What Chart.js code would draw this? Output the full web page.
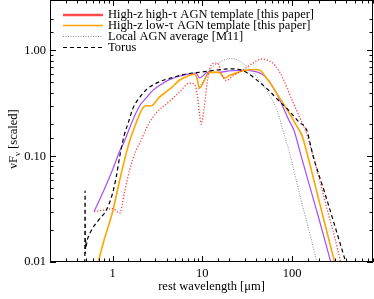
<!DOCTYPE html>
<html><head><meta charset="utf-8">
<script src="https://cdn.jsdelivr.net/npm/chart.js@4.4.1/dist/chart.umd.min.js"></script>
<style>html,body{margin:0;padding:0;background:#fff;}#c{display:block;}</style>
</head><body>
<canvas id="c" width="374" height="299"></canvas>
<script>
// ---- tick labels ----
const xTickLabels = [1, 10, 100];
const yTickLabels = [0.01, 0.1, 1];
const xTitle = 'rest wavelength [\u03bcm]';
const legendLabels = [
  'High-z high-\u03c4 AGN template [this paper]',
  'High-z low-\u03c4 AGN template [this paper]',
  'Local AGN average [M11]',
  'Torus'
];

// ---- series: rest wavelength (um) and scaled nuFnu ----
const highTauWave = [0.62,0.8,1.0,1.2,1.35,1.55,1.8,2.1,2.5,3.1,4.3,5.5,7.2,8.1,8.7,9.3,9.7,10.5,11.4,12.9,14.7,16.7,18.5,21.6,28,36,46,55,65,78,100,120,143,170,200,250,300,350];
const highTauFlux = [0.03,0.031,0.032,0.029,0.045,0.075,0.11,0.145,0.2,0.26,0.33,0.4,0.49,0.48,0.4,0.25,0.2,0.29,0.52,0.75,0.76,0.58,0.52,0.57,0.65,0.75,0.83,0.8,0.72,0.56,0.34,0.24,0.17,0.105,0.063,0.03,0.017,0.0098];

const lowTauWave = [0.686,0.8,1.0,1.2,1.43,1.55,1.8,2.0,2.2,2.4,2.7,3.3,4.0,4.6,5.5,7.2,8.1,8.7,9.3,10.5,11.4,12.5,15.4,17.6,20,25,30,40,45,51,60,72,92,110,130,150,200,250,300];
const lowTauFlux = [0.0098,0.016,0.03,0.06,0.11,0.14,0.2,0.25,0.29,0.3,0.3,0.36,0.41,0.45,0.52,0.58,0.6,0.55,0.44,0.52,0.6,0.62,0.62,0.55,0.58,0.62,0.65,0.66,0.64,0.56,0.46,0.36,0.26,0.2,0.155,0.1,0.038,0.018,0.0098];

const extraWave = [0.62,0.8,1.0,1.2,1.36,1.6,2.0,2.4,2.8,3.5,4.3,5.5,7.2,8.5,9.3,10,11.4,15,20,28,36,46,55,72,92,105,125,150,200,272];
const extraFlux = [0.03,0.048,0.075,0.112,0.14,0.2,0.3,0.36,0.42,0.48,0.53,0.57,0.6,0.61,0.55,0.57,0.62,0.62,0.64,0.65,0.64,0.6,0.52,0.35,0.22,0.176,0.104,0.06,0.0255,0.0098];

const localWave = [9.0,10,11,12,13.5,15.4,18,21.6,25,28,33,40,55,65,72,79,92,110,130,160,190];
const localFlux = [0.43,0.5,0.57,0.65,0.72,0.77,0.82,0.84,0.81,0.76,0.68,0.57,0.39,0.3,0.235,0.176,0.115,0.062,0.035,0.0177,0.0098];

const torusWave = [0.489,0.492,0.496,0.50,0.505,0.52,0.58,0.7,0.85,1.0,1.1,1.2,1.35,1.5,1.67,2.0,2.4,2.8,3.6,4.5,6.6,9,12,16,21,26,32,40,55,70,85,100,120,146,172,230,300,400];
const torusFlux = [0.0098,0.047,0.012,0.016,0.014,0.016,0.02,0.025,0.031,0.045,0.065,0.1,0.16,0.21,0.28,0.36,0.43,0.47,0.52,0.55,0.6,0.62,0.64,0.66,0.67,0.66,0.61,0.53,0.42,0.34,0.29,0.25,0.21,0.176,0.1,0.046,0.022,0.0098];

const pts = (w, f) => w.map((v, i) => ({x: v, y: f[i]}));
const FONT = '"Liberation Serif", "Times New Roman", serif';
const isMajor = v => Math.abs(Math.log10(v) - Math.round(Math.log10(v))) < 1e-6;
const near = (v, list) => list.some(t => Math.abs(v / t - 1) < 1e-6);

const decor = {
  id: 'decor',
  afterDraw(chart) {
    const {ctx, chartArea: a, scales: {x, y}} = chart;
    ctx.save();
    ctx.strokeStyle = '#000';
    ctx.lineWidth = 1;
    ctx.strokeRect(a.left + 0.5, a.top + 0.5, a.right - a.left - 1, a.bottom - a.top - 1);
    ctx.beginPath();
    x.ticks.forEach(t => {
      const v = t.value;
      if (v < x.min || v > x.max) return;
      const px = Math.round(x.getPixelForValue(v)) + 0.5;
      const L = isMajor(v) ? 6 : 3.5;
      ctx.moveTo(px, a.bottom); ctx.lineTo(px, a.bottom - L);
      ctx.moveTo(px, a.top); ctx.lineTo(px, a.top + L);
    });
    y.ticks.forEach(t => {
      const v = t.value;
      if (v < y.min || v > y.max) return;
      const py = Math.round(y.getPixelForValue(v)) + 0.5;
      const L = isMajor(v) ? 6 : 3.5;
      ctx.moveTo(a.left, py); ctx.lineTo(a.left + L, py);
      ctx.moveTo(a.right, py); ctx.lineTo(a.right - L, py);
    });
    ctx.stroke();

    // legend
    const styles = [
      {c: '#ff4d4d', w: 2.5, d: []},
      {c: '#ffa500', w: 1.6, d: []},
      {c: '#8c8c8c', w: 1, d: [1, 1.5]},
      {c: '#000000', w: 1.2, d: [4, 3]}
    ];
    const rowsY = [15, 25.5, 36.5, 47.5];
    ctx.font = '12.5px ' + FONT;
    ctx.fillStyle = '#000';
    ctx.textBaseline = 'middle';
    ctx.textAlign = 'left';
    legendLabels.forEach((lab, i) => {
      const s = styles[i];
      ctx.beginPath();
      ctx.strokeStyle = s.c; ctx.lineWidth = s.w; ctx.setLineDash(s.d);
      ctx.moveTo(63, rowsY[i]); ctx.lineTo(103, rowsY[i]);
      ctx.stroke();
      ctx.setLineDash([]);
      ctx.fillText(lab, 108, rowsY[i]);
    });

    // y title with subscript
    ctx.translate(13, 139);
    ctx.rotate(-Math.PI / 2);
    ctx.textBaseline = 'alphabetic';
    const main = '12.5px ' + FONT, sub = '9px ' + FONT;
    const p1 = '\u03bdF', p2 = '\u03bd', p3 = ' [scaled]';
    ctx.font = main; const w1 = ctx.measureText(p1).width, w3 = ctx.measureText(p3).width;
    ctx.font = sub; const w2 = ctx.measureText(p2).width;
    let sx = -(w1 + w2 + w3) / 2;
    ctx.font = main; ctx.fillText(p1, sx, 4); sx += w1;
    ctx.font = sub; ctx.fillText(p2, sx, 7); sx += w2;
    ctx.font = main; ctx.fillText(p3, sx, 4);
    ctx.restore();
  }
};

const line = (data, color, width, dash) => ({
  data, borderColor: color, borderWidth: width, borderDash: dash,
  showLine: true, pointRadius: 0, fill: false, cubicInterpolationMode: 'monotone'
});

const noPad = s => { s.paddingTop = 0; s.paddingBottom = 0; s.paddingLeft = 0; s.paddingRight = 0; };

new Chart(document.getElementById('c'), {
  type: 'scatter',
  data: {
    datasets: [
      line(pts(torusWave, torusFlux), '#000000', 1.2, [4, 3]),
      line(pts(highTauWave, highTauFlux), '#ff3b3b', 1.3, [1.2, 1.8]),
      line(pts(localWave, localFlux), '#8c8c8c', 1, [1, 1.5]),
      line(pts(lowTauWave, lowTauFlux), '#ffa500', 1.6, []),
      line(pts(extraWave, extraFlux), '#a64dff', 1.2, [])
    ]
  },
  options: {
    responsive: false,
    animation: false,
    devicePixelRatio: 1,
    layout: {padding: {left: 0, right: 1, top: 0, bottom: 0}},
    plugins: {legend: {display: false}, tooltip: {enabled: false}},
    scales: {
      x: {
        type: 'logarithmic', min: 0.2, max: 800,
        grid: {display: false, drawTicks: false},
        border: {display: false},
        afterFit: s => { s.height = 37; noPad(s); },
        ticks: {
          autoSkip: false, maxRotation: 0, padding: 4, color: '#000',
          font: {family: FONT, size: 12.5},
          callback: v => near(v, xTickLabels) ? String(Math.round(v)) : ''
        },
        title: {display: true, text: xTitle, color: '#000', font: {family: FONT, size: 12.5}, padding: {top: 0, bottom: 5}}
      },
      y: {
        type: 'logarithmic', min: 0.01, max: 3,
        grid: {display: false, drawTicks: false},
        border: {display: false},
        afterFit: s => { s.width = 50; noPad(s); },
        ticks: {
          autoSkip: false, padding: 4, color: '#000',
          font: {family: FONT, size: 12.5},
          callback: v => near(v, yTickLabels) ? v.toFixed(2) : ''
        }
      }
    }
  },
  plugins: [decor]
});
</script>
</body></html>
